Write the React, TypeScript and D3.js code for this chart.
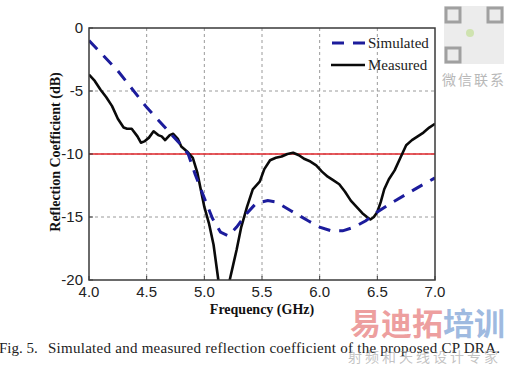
import React from 'react';
import * as d3 from 'd3';

// frequency (GHz) / reflection coefficient (dB)
const simFreq = [4.0, 4.25, 4.5, 4.7, 4.8, 4.86, 4.92, 5.0, 5.07, 5.14, 5.21, 5.28, 5.37, 5.45, 5.55, 5.62, 5.75, 5.9, 6.0, 6.1, 6.2, 6.3, 6.4, 6.5, 6.6, 6.75, 6.9, 7.0];
const simVal = [-1.0, -3.4, -6.3, -8.3, -9.3, -10.0, -11.6, -13.5, -15.1, -16.2, -16.5, -15.8, -14.7, -13.9, -13.7, -13.8, -14.5, -15.3, -15.8, -16.1, -16.1, -15.8, -15.3, -14.6, -14.0, -13.2, -12.4, -11.9];

const measFreq = [4.0, 4.05, 4.1, 4.15, 4.2, 4.25, 4.3, 4.33, 4.37, 4.42, 4.45, 4.48, 4.52, 4.56, 4.6, 4.63, 4.66, 4.7, 4.73, 4.77, 4.8, 4.85, 4.9, 4.94, 5.0, 5.04, 5.08, 5.12, 5.14, 5.17, 5.2, 5.22, 5.25, 5.28, 5.32, 5.37, 5.42, 5.48, 5.52, 5.57, 5.62, 5.67, 5.72, 5.77, 5.82, 5.87, 5.92, 5.97, 6.02, 6.07, 6.12, 6.17, 6.22, 6.27, 6.32, 6.37, 6.41, 6.44, 6.47, 6.5, 6.53, 6.56, 6.6, 6.65, 6.7, 6.75, 6.8, 6.85, 6.9, 6.95, 7.0];
const measVal = [-3.7, -4.2, -4.9, -5.5, -6.2, -7.2, -7.9, -8.0, -8.0, -8.6, -9.1, -9.0, -8.7, -8.2, -8.5, -8.6, -8.9, -8.5, -8.4, -8.8, -9.4, -9.8, -10.3, -11.5, -14.2, -15.5, -17.2, -19.9, -21.5, -23.0, -21.5, -20.0, -18.8, -17.6, -15.8, -14.2, -12.8, -12.2, -11.2, -10.5, -10.3, -10.2, -10.0, -9.9, -10.1, -10.4, -10.6, -10.9, -11.4, -11.8, -12.1, -12.4, -13.0, -13.7, -14.2, -14.7, -15.0, -15.2, -15.0, -14.6, -13.8, -12.8, -12.0, -11.3, -10.3, -9.3, -8.9, -8.6, -8.3, -7.9, -7.6];

const xTicks = [4.0, 4.5, 5.0, 5.5, 6.0, 6.5, 7.0];
const yTicks = [0, -5, -10, -15, -20];
const threshold = -10;

const W = 509;
const H = 367;
const left = 89, right = 435, top = 28, bottom = 280;

export default function App() {
  const x = d3.scaleLinear().domain([4, 7]).range([left, right]);
  const y = d3.scaleLinear().domain([-20, 0]).range([bottom, top]);

  const line = d3.line<[number, number]>()
    .x(d => x(d[0]))
    .y(d => y(d[1]));

  const simPath = line(simFreq.map((f, i) => [f, simVal[i]]) as [number, number][]) || '';
  const measPath = line(measFreq.map((f, i) => [f, measVal[i]]) as [number, number][]) || '';

  const serif = '"Liberation Serif", "Times New Roman", serif';
  const sans = '"Liberation Sans", Arial, sans-serif';

  return (
    <svg width={W} height={H} style={{ position: 'absolute', left: 0, top: 0, background: '#fff' }}>
      <defs>
        <clipPath id="plotClip">
          <rect x={left} y={top} width={right - left} height={bottom - top} />
        </clipPath>
      </defs>
      <rect x={0} y={0} width={W} height={H} fill="#fff" />

      {/* grid */}
      {xTicks.slice(1, -1).map(t => (
        <line key={'gx' + t} x1={x(t)} x2={x(t)} y1={top} y2={bottom}
          stroke="#9a9a9a" strokeWidth={1} strokeDasharray="3,3" />
      ))}
      {yTicks.slice(1, -1).map(t => (
        <line key={'gy' + t} x1={left} x2={right} y1={y(t)} y2={y(t)}
          stroke="#9a9a9a" strokeWidth={1} strokeDasharray="3,3" />
      ))}

      {/* curves */}
      <g clipPath="url(#plotClip)">
        <line x1={left} x2={right} y1={y(threshold)} y2={y(threshold)} stroke="#e0262b" strokeWidth={1.5} />
        <path d={measPath} fill="none" stroke="#0a0a0a" strokeWidth={2.6} strokeLinejoin="round" />
        <path d={simPath} fill="none" stroke="#1c1c9c" strokeWidth={3} strokeDasharray="12,9" />
      </g>

      {/* frame and ticks */}
      <rect x={left} y={top} width={right - left} height={bottom - top} fill="none" stroke="#3a3a3a" strokeWidth={1.5} />
      {xTicks.map(t => (
        <g key={'xt' + t}>
          <line x1={x(t)} x2={x(t)} y1={bottom} y2={bottom - 4} stroke="#3a3a3a" strokeWidth={1} />
          <text x={x(t)} y={297} textAnchor="middle" fontFamily={sans} fontSize={15} fill="#222">{t.toFixed(1)}</text>
        </g>
      ))}
      {yTicks.map(t => (
        <g key={'yt' + t}>
          <line x1={left} x2={left + 4} y1={y(t)} y2={y(t)} stroke="#3a3a3a" strokeWidth={1} />
          <text x={83} y={y(t) + 5} textAnchor="end" fontFamily={sans} fontSize={15} fill="#222">{t}</text>
        </g>
      ))}

      {/* axis titles */}
      <text x={262} y={314} textAnchor="middle" fontFamily={serif} fontWeight="bold" fontSize={14} fill="#111">Frequency (GHz)</text>
      <text transform="translate(60,152) rotate(-90)" textAnchor="middle" fontFamily={serif} fontWeight="bold" fontSize={14} fill="#111">Reflection Coefficient (dB)</text>

      {/* legend */}
      <line x1={332} x2={365} y1={43} y2={43} stroke="#1c1c9c" strokeWidth={3} strokeDasharray="12,9" />
      <text x={368} y={48} fontFamily={serif} fontSize={15} fill="#222">Simulated</text>
      <line x1={331} x2={365} y1={65} y2={65} stroke="#0a0a0a" strokeWidth={2.6} />
      <text x={368} y={70} fontFamily={serif} fontSize={15} fill="#222">Measured</text>

      {/* watermark */}
      <rect x={444} y={6} width={60} height={58} fill="#ececec" />
      <rect x={446} y={8} width={14} height={14} fill="none" stroke="#a0a0a0" strokeWidth={3} />
      <rect x={488} y={8} width={14} height={14} fill="none" stroke="#a0a0a0" strokeWidth={3} />
      <rect x={446} y={48} width={14} height={14} fill="none" stroke="#a0a0a0" strokeWidth={3} />
      <circle cx={470} cy={33} r={4} fill="#cfe3b0" />
      <text x={474} y={85} textAnchor="middle" fontFamily='"Noto Sans CJK SC", sans-serif' fontSize={14} letterSpacing={2} fill="#b8b8b8">微信联系</text>
      <text x={350} y={335} fontFamily='"Noto Sans CJK SC", sans-serif' fontWeight="bold" fontSize={31} fill="#ea8e8e" fillOpacity={0.85}>易迪拓<tspan fill="#8eaedb">培训</tspan></text>

      {/* caption */}
      <text x={-1} y={353} fontFamily={serif} fontSize={15} fill="#222">Fig. 5.</text>
      <text x={48} y={353} fontFamily={serif} fontSize={15} fill="#222" textLength={452}>Simulated and measured reflection coefficient of the proposed CP DRA.</text>
      <text x={348} y={362} fontFamily='"Noto Sans CJK SC", sans-serif' fontSize={14} letterSpacing={3} fill="#9a9a9a" fillOpacity={0.6}>射频和天线设计专家</text>
    </svg>
  );
}
